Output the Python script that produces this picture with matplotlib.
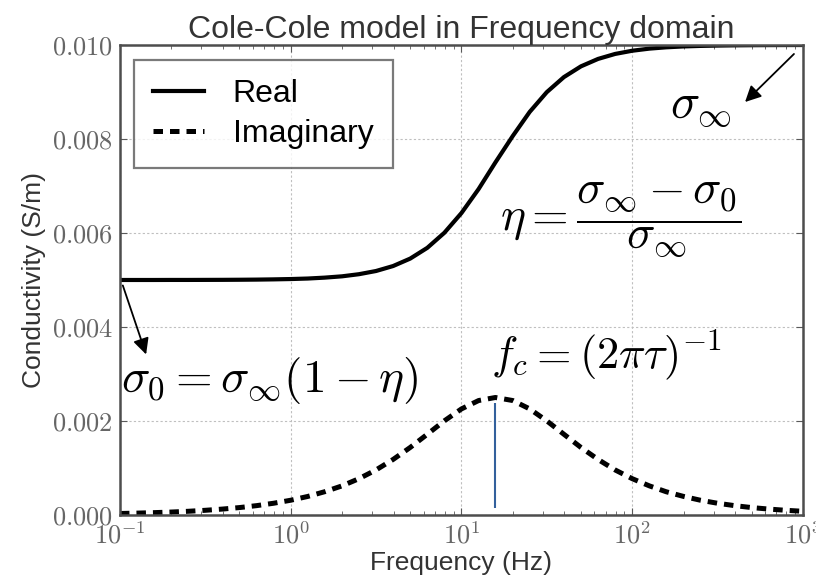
import numpy as np
import matplotlib
matplotlib.use("Agg")
import matplotlib.pyplot as plt
from matplotlib.ticker import FuncFormatter, LogLocator, FixedLocator

plt.rcParams['font.family'] = ['Liberation Sans', 'DejaVu Sans']
plt.rcParams['mathtext.fontset'] = 'cm'

# conductivity samples (S/m) at 0.1 decade steps, 0.1 Hz .. 1 kHz
freq_hz = [0.1, 0.126, 0.158, 0.2, 0.251, 0.316, 0.398, 0.501, 0.631, 0.794,
           1.0, 1.26, 1.58, 2.0, 2.51, 3.16, 3.98, 5.01, 6.31, 7.94,
           10.0, 12.6, 15.8, 20.0, 25.1, 31.6, 39.8, 50.1, 63.1, 79.4,
           100.0, 126.0, 158.0, 200.0, 251.0, 316.0, 398.0, 501.0, 631.0, 794.0,
           1000.0]
sigma_real = [0.005000, 0.005000, 0.005000, 0.005001, 0.005001, 0.005002, 0.005003,
              0.005005, 0.005008, 0.005013, 0.005020, 0.005031, 0.005050, 0.005078,
              0.005123, 0.005191, 0.005297, 0.005455, 0.005684, 0.006004, 0.006424,
              0.006934, 0.007500, 0.008066, 0.008576, 0.008996, 0.009316, 0.009545,
              0.009703, 0.009809, 0.009877, 0.009922, 0.009950, 0.009969, 0.009980,
              0.009987, 0.009992, 0.009995, 0.009997, 0.009998, 0.009999]
sigma_imag = [0.000032, 0.000040, 0.000050, 0.000063, 0.000079, 0.000100, 0.000126,
              0.000158, 0.000199, 0.000250, 0.000314, 0.000395, 0.000495, 0.000620,
              0.000773, 0.000959, 0.001182, 0.001437, 0.001718, 0.002003, 0.002257,
              0.002435, 0.002500, 0.002435, 0.002257, 0.002003, 0.001718, 0.001437,
              0.001182, 0.000959, 0.000773, 0.000620, 0.000495, 0.000395, 0.000314,
              0.000250, 0.000199, 0.000158, 0.000126, 0.000100, 0.000079]
fc_line = [0.00015, 0.00238]   # extent of the marker at the corner frequency

fig = plt.figure(figsize=(8.16, 5.81), dpi=100)
ax = fig.add_axes([0.147, 0.1136, 0.837, 0.809])

ax.semilogx(freq_hz, sigma_real, color='k', lw=3.0, label='Real')
ax.semilogx(freq_hz, sigma_imag, color='k', lw=3.6, dashes=(1.9, 1.4),
            label='Imaginary')

fc = freq_hz[int(np.argmax(sigma_imag))]
ax.vlines(fc, fc_line[0], fc_line[1], color='#33609c', lw=1.5)

ax.set_xlim(0.1, 1000)
ax.set_ylim(0.0, 0.010)
ax.set_yticks([0.0, 0.002, 0.004, 0.006, 0.008, 0.010])
ax.yaxis.set_major_formatter(FuncFormatter(lambda v, p: r'$%.3f$' % v))
ax.xaxis.set_major_locator(FixedLocator([0.1, 1, 10, 100, 1000]))
ax.xaxis.set_major_formatter(FuncFormatter(lambda v, p: r'$10^{%d}$' % round(np.log10(v))))
ax.xaxis.set_minor_locator(LogLocator(base=10, subs=np.arange(2, 10)))

ax.grid(True, which='major', color='0.75', linestyle=(0, (2, 2)), lw=0.8)
ax.tick_params(which='both', direction='in', top=True, right=True,
               labelsize=19, labelcolor='0.4', color='0.35')
ax.tick_params(which='major', length=5, width=0.8, pad=5)
ax.tick_params(which='minor', length=3, width=0.6)
for s in ax.spines.values():
    s.set_color('0.3')
    s.set_linewidth(1.8)

ax.set_title('Cole-Cole model in Frequency domain', fontsize=23, color='0.2', pad=2)
ax.set_xlabel('Frequency (Hz)', fontsize=19, color='0.2', labelpad=2)
ax.set_ylabel('Conductivity (S/m)', fontsize=19, color='0.2', labelpad=4)

leg = ax.legend(loc='upper left', fontsize=23, handlelength=1.6, fancybox=False,
                borderpad=0.6, labelspacing=0.3, handletextpad=0.9,
                borderaxespad=0, bbox_to_anchor=(0.02, 0.968))
leg.get_frame().set_edgecolor('0.35')
leg.get_frame().set_linewidth(1.6)

# formula labels
ax.text(166, 0.00866, r'$\sigma_\infty$', fontsize=35, ha='left', va='center')
ax.annotate('', xy=(446, 0.008745), xytext=(910, 0.00985),
            arrowprops=dict(arrowstyle='-|>', color='k', lw=1.3, mutation_scale=24))
ax.text(16.8, 0.00628, r'$\eta = \dfrac{\sigma_\infty - \sigma_0}{\sigma_\infty}$',
        fontsize=34, ha='left', va='center')
ax.text(0.101, 0.00287, r'$\sigma_0 = \sigma_\infty(1-\eta)$', fontsize=34,
        ha='left', va='center')
ax.annotate('', xy=(0.144, 0.00336), xytext=(0.1027, 0.00494),
            arrowprops=dict(arrowstyle='-|>', color='k', lw=1.3, mutation_scale=24))
ax.text(14.9, 0.00340, r'$f_c = (2\pi\tau)^{-1}$', fontsize=32, ha='left', va='center')

fig.savefig('out.png', dpi=100)
